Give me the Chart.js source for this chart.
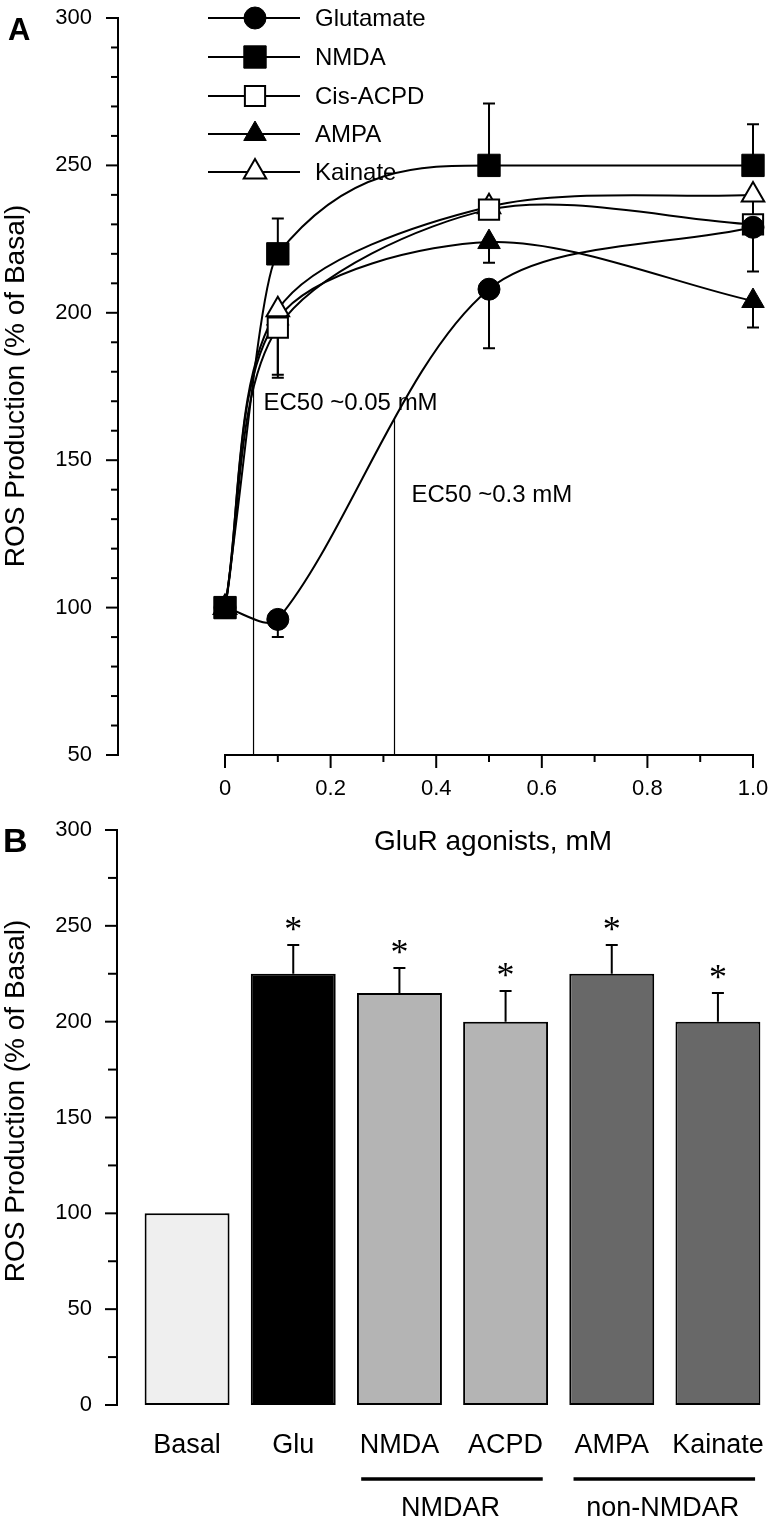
<!DOCTYPE html>
<html><head><meta charset="utf-8">
<script src="https://cdn.jsdelivr.net/npm/chart.js@4.4.1/dist/chart.umd.min.js"></script>
<style>
html,body{margin:0;padding:0;background:#fff;}
#wrap{position:relative;width:773px;height:1527px;overflow:hidden;background:#fff;}
#cA{position:absolute;left:0;top:0;}
#cB{position:absolute;left:0;top:800px;}
</style></head><body>
<div id="wrap">
<canvas id="cA" width="773" height="870" style="width:773px;height:870px"></canvas>
<canvas id="cB" width="773" height="727" style="width:773px;height:727px"></canvas>
</div>
<script>
// ---------- DATA: panel A ----------
const concentrations = [0, 0.1, 0.5, 1.0];
const glutamate = [100, 96, 208, 229];
const nmda      = [100, 220, 250, 250];
const cisAcpd   = [100, 195, 235, 230];
const ampa      = [100, 198, 224, 204];
const kainate   = [100, 201, 236, 240];
// one-sided SEM (positive = drawn up, negative = drawn down)
const glutamateErr = [0, -6, -20, -15];
const nmdaErr      = [0, 12, 21, 14];
const cisAcpdErr   = [0, -17, 0, 0];
const ampaErr      = [0, 0, -7, -9];
const kainateErr   = [0, -22, 0, -12];
const seriesNames = ['Glutamate', 'NMDA', 'Cis-ACPD', 'AMPA', 'Kainate'];
const xTickValues = [0, 0.2, 0.4, 0.6, 0.8, 1.0];
const xMinorTickValues = [0.1, 0.3, 0.5, 0.7, 0.9];
const yTickStepA = 50;
const ec50Low  = {x: 0.054, y: 175, label: 'EC50 ~0.05 mM'};
const ec50High = {x: 0.321, y: 164, label: 'EC50 ~0.3 mM'};

// ---------- DATA: panel B ----------
const barCategories = ['Basal', 'Glu', 'NMDA', 'ACPD', 'AMPA', 'Kainate'];
const barValues = [100, 225, 215, 200, 225, 200];
const barErrors = [0, 15, 13, 16, 15, 15];
const barSignificant = [false, true, true, true, true, true];
const barGroups = [{label: 'NMDAR', from: 2, to: 3}, {label: 'non-NMDAR', from: 4, to: 5}];

// ---------- STYLE ----------
const FONT = '"Liberation Sans", Arial, Helvetica, sans-serif';
Chart.defaults.font.family = FONT;
Chart.defaults.color = '#000';
const barColors = ['#efefef', '#000000', '#b4b4b4', '#b4b4b4', '#686868', '#686868'];
const seriesStyle = [
  {pointStyle: 'circle',   radius: 11,   fill: '#000', bw: 1, order: 2, mode: 'default', tension: 0.3},
  {pointStyle: 'rect',     radius: 15.8, fill: '#000', bw: 1, order: 1, mode: 'monotone', tension: 0.4},
  {pointStyle: 'rect',     radius: 14.3, fill: '#fff', bw: 2, order: 3, mode: 'default', tension: 0.3},
  {pointStyle: 'triangle', radius: 13,   fill: '#000', bw: 1, order: 5, mode: 'default', tension: 0.3},
  {pointStyle: 'triangle', radius: 13,   fill: '#fff', bw: 2, order: 4, mode: 'default', tension: 0.3}
];
const seriesValues = [glutamate, nmda, cisAcpd, ampa, kainate];
const seriesErrors = [glutamateErr, nmdaErr, cisAcpdErr, ampaErr, kainateErr];

function toXY(vals) { return concentrations.map((c, i) => ({x: c, y: vals[i]})); }

const lineDatasets = seriesValues.map((vals, s) => ({
  label: seriesNames[s],
  data: toXY(vals),
  borderColor: '#000',
  borderWidth: 2,
  backgroundColor: seriesStyle[s].fill,
  pointBackgroundColor: seriesStyle[s].fill,
  pointBorderColor: '#000',
  pointBorderWidth: seriesStyle[s].bw,
  pointStyle: seriesStyle[s].pointStyle,
  pointRadius: seriesStyle[s].radius,
  pointHoverRadius: seriesStyle[s].radius,
  tension: seriesStyle[s].tension,
  cubicInterpolationMode: seriesStyle[s].mode,
  fill: false,
  clip: false,
  order: seriesStyle[s].order
}));
function ec50Dataset(e) {
  return {label: e.label, data: [{x: e.x, y: 50}, {x: e.x, y: e.y}], borderColor: '#000', borderWidth: 1.2,
    pointRadius: 0, tension: 0, fill: false, order: 10};
}

function text(ctx, str, x, y, font, align, baseline, rot) {
  ctx.save();
  ctx.font = font; ctx.fillStyle = '#000';
  ctx.textAlign = align || 'left'; ctx.textBaseline = baseline || 'middle';
  ctx.translate(x, y);
  if (rot) ctx.rotate(rot);
  ctx.fillText(str, 0, 0);
  ctx.restore();
}

const noPad = s => { s.paddingTop = 0; s.paddingBottom = 0; s.paddingLeft = 0; s.paddingRight = 0; };

const panelAPlugin = {
  id: 'panelA',
  beforeDatasetsDraw(chart) {
    const {ctx, chartArea: ca, scales: {x, y}} = chart;
    ctx.save();
    ctx.strokeStyle = '#000'; ctx.lineWidth = 2; ctx.lineCap = 'butt';
    // y axis
    ctx.beginPath(); ctx.moveTo(ca.left, y.getPixelForValue(300) - 1); ctx.lineTo(ca.left, y.getPixelForValue(50) + 1); ctx.stroke();
    for (let v = 50; v <= 300; v += 10) {
      const py = y.getPixelForValue(v);
      const len = (v % yTickStepA === 0) ? 12 : 7;
      ctx.beginPath(); ctx.moveTo(ca.left - len, py); ctx.lineTo(ca.left, py); ctx.stroke();
    }
    // x axis
    const x0 = x.getPixelForValue(0), x1 = x.getPixelForValue(1.0);
    ctx.beginPath(); ctx.moveTo(x0 - 1, ca.bottom); ctx.lineTo(x1 + 1, ca.bottom); ctx.stroke();
    xTickValues.forEach(v => { const px = x.getPixelForValue(v); ctx.beginPath(); ctx.moveTo(px, ca.bottom); ctx.lineTo(px, ca.bottom + 13); ctx.stroke(); });
    xMinorTickValues.forEach(v => { const px = x.getPixelForValue(v); ctx.beginPath(); ctx.moveTo(px, ca.bottom); ctx.lineTo(px, ca.bottom + 7); ctx.stroke(); });
    // error bars
    seriesValues.forEach((vals, s) => {
      seriesErrors[s].forEach((e, i) => {
        if (!e) return;
        const px = x.getPixelForValue(concentrations[i]);
        const p0 = y.getPixelForValue(vals[i]), p1 = y.getPixelForValue(vals[i] + e);
        ctx.beginPath(); ctx.moveTo(px, p0); ctx.lineTo(px, p1); ctx.moveTo(px - 6, p1); ctx.lineTo(px + 6, p1); ctx.stroke();
      });
    });
    ctx.restore();
  },
  afterDatasetsDraw(chart) {
    const {ctx, scales: {x, y}} = chart;
    // legend
    const rowY = [18, 57, 96, 134, 172];
    seriesNames.forEach((name, s) => {
      const yy = rowY[s];
      ctx.save();
      ctx.strokeStyle = '#000'; ctx.lineWidth = 2;
      ctx.beginPath(); ctx.moveTo(208, yy); ctx.lineTo(300, yy); ctx.stroke();
      ctx.fillStyle = seriesStyle[s].fill; ctx.lineWidth = seriesStyle[s].bw;
      Chart.helpers.drawPoint(ctx, {pointStyle: seriesStyle[s].pointStyle, radius: seriesStyle[s].radius, rotation: 0, borderWidth: seriesStyle[s].bw}, 255, yy);
      ctx.restore();
      text(ctx, name, 315, yy + 1, '24px ' + FONT, 'left', 'middle');
    });
    // EC50 labels
    text(ctx, ec50Low.label, x.getPixelForValue(ec50Low.x) + 10, 403, '24px ' + FONT, 'left', 'middle');
    text(ctx, ec50High.label, x.getPixelForValue(ec50High.x) + 17, 495, '24px ' + FONT, 'left', 'middle');
    // titles
    text(ctx, 'A', 8, 40, 'bold 31px ' + FONT, 'left', 'alphabetic');
    text(ctx, 'ROS Production (% of Basal)', 16, 386, '28px ' + FONT, 'center', 'middle', -Math.PI / 2);
    text(ctx, 'GluR agonists, mM', 493, 842, '28px ' + FONT, 'center', 'middle');
  }
};

function fitTop(chart, targetTop) {
  for (let k = 0; k < 4; k++) {
    const d = targetTop - chart.chartArea.top;
    if (Math.abs(d) < 0.25) break;
    chart.options.layout.padding.top += d;
    chart.update('none');
  }
}

const chartA = new Chart(document.getElementById('cA'), {
  type: 'line',
  data: {datasets: [...lineDatasets, ec50Dataset(ec50Low), ec50Dataset(ec50High)]},
  options: {
    responsive: false, animation: false, devicePixelRatio: 1,
    layout: {autoPadding: false, padding: {top: 18, right: 20, bottom: 0, left: 0}},
    plugins: {legend: {display: false}, tooltip: {enabled: false}},
    scales: {
      x: {
        type: 'linear', min: -0.2027, max: 1.0,
        grid: {display: false, drawTicks: false}, border: {display: false},
        afterBuildTicks: s => { s.ticks = xTickValues.map(v => ({value: v})); },
        ticks: {padding: 21, autoSkip: false, maxRotation: 0, font: {size: 22, lineHeight: 1.2}, color: '#000',
          callback: v => (v === 0 ? '0' : Number(v).toFixed(1))},
        afterFit: s => { s.height = 115; noPad(s); }
      },
      y: {
        type: 'linear', min: 50, max: 300,
        grid: {display: false, drawTicks: false}, border: {display: false},
        ticks: {stepSize: yTickStepA, padding: 26, font: {size: 22, lineHeight: 1.2}, color: '#000'},
        afterFit: s => { s.width = 118; noPad(s); }
      }
    }
  },
  plugins: [panelAPlugin]
});
fitTop(chartA, 18);

// ---------- panel B ----------
const panelBPlugin = {
  id: 'panelB',
  afterDatasetsDraw(chart) {
    const {ctx, chartArea: ca, scales: {x, y}} = chart;
    const axisX = ca.left - 17;
    ctx.save();
    ctx.strokeStyle = '#000'; ctx.lineWidth = 2;
    ctx.beginPath(); ctx.moveTo(axisX, y.getPixelForValue(300) - 1); ctx.lineTo(axisX, y.getPixelForValue(0) + 1); ctx.stroke();
    for (let v = 0; v <= 300; v += 25) {
      const py = y.getPixelForValue(v);
      const len = (v % 50 === 0) ? 12 : 9;
      ctx.beginPath(); ctx.moveTo(axisX - len, py); ctx.lineTo(axisX, py); ctx.stroke();
    }
    // error bars (upper)
    const meta = chart.getDatasetMeta(0);
    barValues.forEach((v, i) => {
      if (!barErrors[i]) return;
      const px = meta.data[i].x;
      const p0 = y.getPixelForValue(v), p1 = y.getPixelForValue(v + barErrors[i]);
      ctx.beginPath(); ctx.moveTo(px, p0); ctx.lineTo(px, p1); ctx.moveTo(px - 6, p1); ctx.lineTo(px + 6, p1); ctx.stroke();
      if (barSignificant[i]) text(ctx, '*', px, p1 - 4, '36px "Liberation Serif", "Times New Roman", serif', 'center', 'alphabetic');
    });
    // group lines
    const step = x.getPixelForValue(1) - x.getPixelForValue(0);
    barGroups.forEach(g => {
      const a = x.getPixelForValue(g.from) - 0.36 * step, b = x.getPixelForValue(g.to) + 0.35 * step;
      ctx.lineWidth = 3.5;
      ctx.beginPath(); ctx.moveTo(a, 679); ctx.lineTo(b, 679); ctx.stroke();
      text(ctx, g.label, (x.getPixelForValue(g.from) + x.getPixelForValue(g.to)) / 2 - 2, 709, '27px ' + FONT, 'center', 'middle');
    });
    ctx.restore();
    text(ctx, 'B', 3, 52, 'bold 34px ' + FONT, 'left', 'alphabetic');
    text(ctx, 'ROS Production (% of Basal)', 16, 301, '28px ' + FONT, 'center', 'middle', -Math.PI / 2);
  }
};

const chartB = new Chart(document.getElementById('cB'), {
  type: 'bar',
  data: {labels: barCategories, datasets: [{
    data: barValues, backgroundColor: barColors, borderColor: '#000', borderWidth: 2,
    borderSkipped: false, barPercentage: 0.8, categoryPercentage: 1.0
  }]},
  options: {
    responsive: false, animation: false, devicePixelRatio: 1,
    layout: {autoPadding: false, padding: {top: 30, right: 2, bottom: 0, left: 0}},
    plugins: {legend: {display: false}, tooltip: {enabled: false}},
    scales: {
      x: {
        type: 'category', offset: true,
        grid: {display: false, drawTicks: false}, border: {display: false},
        ticks: {padding: 24, autoSkip: false, maxRotation: 0, font: {size: 27, lineHeight: 1.2}, color: '#000'},
        afterFit: s => { s.height = 122; noPad(s); }
      },
      y: {
        type: 'linear', min: 0, max: 300,
        grid: {display: false, drawTicks: false}, border: {display: false},
        ticks: {stepSize: 50, padding: 42, font: {size: 22, lineHeight: 1.2}, color: '#000'},
        afterFit: s => { s.width = 134; noPad(s); }
      }
    }
  },
  plugins: [panelBPlugin]
});
fitTop(chartB, 30);
</script>
</body></html>
